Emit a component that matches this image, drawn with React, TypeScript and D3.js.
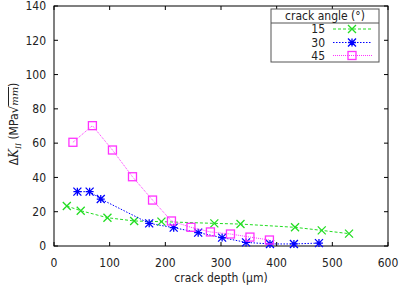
import * as d3 from 'd3';

// crack depth (µm) vs ΔK_II for three crack angles
const depth15 = [23, 48, 96, 144, 193, 288, 335, 433, 481, 530];
const dk15 = [23.3, 20.6, 16.5, 14.6, 14.2, 13.2, 12.8, 10.9, 9.1, 7.2];

const depth30 = [42, 64, 84, 171, 215, 259, 302, 345, 388, 431, 476];
const dk30 = [31.7, 31.7, 27.4, 13.2, 10.7, 7.8, 4.9, 2.1, 1.2, 1.2, 1.7];

const depth45 = [34, 69, 105, 141, 177, 211, 246, 281, 317, 352, 387];
const dk45 = [60.5, 70.2, 56, 40.4, 26.8, 14.6, 10.9, 8.2, 7, 5.2, 3.5];

const xTicks = [0, 100, 200, 300, 400, 500, 600];
const yTicks = [0, 20, 40, 60, 80, 100, 120, 140];
const angles = ['15', '30', '45'];

const W = 399;
const H = 286;
const margin = { top: 6, right: 11, bottom: 40, left: 54 };
const FONT = '"Liberation Sans Narrow", "DejaVu Sans Condensed", sans-serif';
const FS = 12;

type Series = { name: string; xs: number[]; ys: number[]; color: string; dash: string; marker: 'x' | 'star' | 'square' };

const series: Series[] = [
  { name: angles[0], xs: depth15, ys: dk15, color: '#22dd22', dash: '3,2', marker: 'x' },
  { name: angles[1], xs: depth30, ys: dk30, color: '#0000ff', dash: '1.5,1.5', marker: 'star' },
  { name: angles[2], xs: depth45, ys: dk45, color: '#ff33ff', dash: '1,1', marker: 'square' },
];

function Marker({ x, y, kind, color }: { x: number; y: number; kind: Series['marker']; color: string }) {
  const r = 4;
  if (kind === 'square') {
    return <rect x={x - r} y={y - r} width={2 * r} height={2 * r} fill="none" stroke={color} strokeWidth={1.3} />;
  }
  const cross = `M${x - r},${y - r}L${x + r},${y + r}M${x - r},${y + r}L${x + r},${y - r}`;
  const plus = `M${x - r},${y}L${x + r},${y}M${x},${y - r}L${x},${y + r}`;
  return <path d={kind === 'x' ? cross : cross + plus} stroke={color} strokeWidth={1.3} fill="none" />;
}

export default function App() {
  const x = d3.scaleLinear().domain([0, 600]).range([margin.left, W - margin.right]);
  const y = d3.scaleLinear().domain([0, 140]).range([H - margin.bottom, margin.top]);
  const line = d3.line<[number, number]>().x((d) => x(d[0])).y((d) => y(d[1]));

  const x0 = x(0), x1 = x(600), y0 = y(0), y1 = y(140);

  // legend box
  const lg = { left: 271, right: 379, top: 9, sep: 23, bottom: 62 };
  const rowY = [29, 42.5, 55.5];

  return (
    <svg width={W} height={H} style={{ position: 'absolute', left: 0, top: 0, background: '#fff' }} fontFamily={FONT}>
      <rect x={0} y={0} width={W} height={H} fill="#fff" />
      {/* ticks */}
      {xTicks.map((t) => (
        <g key={'x' + t}>
          <line x1={x(t)} x2={x(t)} y1={y0} y2={y0 - 4} stroke="#000" />
          <line x1={x(t)} x2={x(t)} y1={y1} y2={y1 + 4} stroke="#000" />
          <text x={x(t)} y={267} textAnchor="middle" fontSize={FS} fill="#222">{t}</text>
        </g>
      ))}
      {yTicks.map((t) => (
        <g key={'y' + t}>
          <line x1={x0} x2={x0 + 4} y1={y(t)} y2={y(t)} stroke="#000" />
          <line x1={x1} x2={x1 - 4} y1={y(t)} y2={y(t)} stroke="#000" />
          <text x={46} y={y(t) + 4.3} textAnchor="end" fontSize={FS} fill="#222">{t}</text>
        </g>
      ))}
      <rect x={x0} y={y1} width={x1 - x0} height={y0 - y1} fill="none" stroke="#000" strokeWidth={1} />

      {/* series */}
      {series.map((s) => (
        <g key={s.name}>
          <path d={line(s.xs.map((v, i) => [v, s.ys[i]] as [number, number])) || ''} fill="none" stroke={s.color} strokeWidth={1} strokeDasharray={s.dash} />
          {s.xs.map((v, i) => (
            <Marker key={i} x={x(v)} y={y(s.ys[i])} kind={s.marker} color={s.color} />
          ))}
        </g>
      ))}

      {/* legend */}
      <rect x={lg.left} y={lg.top} width={lg.right - lg.left} height={lg.bottom - lg.top} fill="#fff" stroke="#555" />
      <line x1={lg.left} x2={lg.right} y1={lg.sep} y2={lg.sep} stroke="#555" />
      <text x={(lg.left + lg.right) / 2} y={20} textAnchor="middle" fontSize={FS} fill="#222">crack angle (°)</text>
      {series.map((s, i) => (
        <g key={'lg' + s.name}>
          <text x={325} y={rowY[i] + 4.2} textAnchor="end" fontSize={FS} fill="#222">{s.name}</text>
          <line x1={333} x2={372} y1={rowY[i]} y2={rowY[i]} stroke={s.color} strokeDasharray={s.dash} />
          <Marker x={352} y={rowY[i]} kind={s.marker} color={s.color} />
        </g>
      ))}

      {/* axis titles */}
      <text x={(x0 + x1) / 2} y={282} textAnchor="middle" fontSize={FS} fill="#222">crack depth (µm)</text>
      <text transform={`translate(18,${(y0 + y1) / 2 - 2}) rotate(-90)`} textAnchor="middle" fontSize={FS} fill="#222">
        Δ<tspan fontFamily="DejaVu Serif" fontStyle="italic" fontSize={12}>K</tspan>
        <tspan fontFamily="DejaVu Serif" fontStyle="italic" fontSize={7.5} dy={3}>II</tspan>
        <tspan dy={-3}> (MPa</tspan>
        <tspan fontFamily="DejaVu Sans">√</tspan>
        <tspan fontFamily="DejaVu Serif" fontStyle="italic" fontSize={10} style={{ textDecoration: 'overline' }}>mm</tspan>
        <tspan>)</tspan>
      </text>
    </svg>
  );
}
